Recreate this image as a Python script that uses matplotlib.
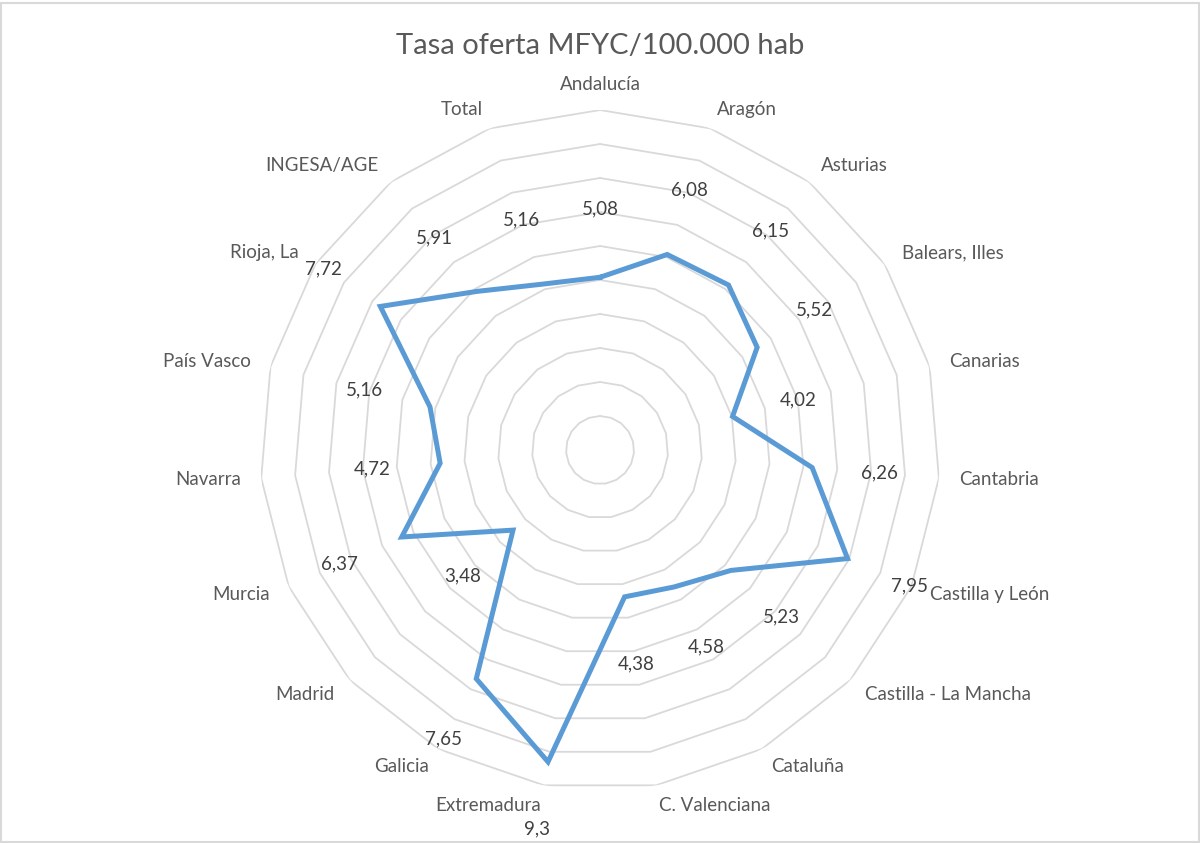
import numpy as np
import matplotlib
matplotlib.use("Agg")
import matplotlib.pyplot as plt
from matplotlib.patches import Rectangle

categories = [
    "Andalucía", "Aragón", "Asturias", "Balears, Illes", "Canarias",
    "Cantabria", "Castilla y León", "Castilla - La Mancha", "Cataluña",
    "C. Valenciana", "Extremadura", "Galicia", "Madrid", "Murcia",
    "Navarra", "País Vasco", "Rioja, La", "INGESA/AGE", "Total",
]
values = [5.08, 6.08, 6.15, 5.52, 4.02, 6.26, 7.95, 5.23, 4.58, 4.38,
          9.3, 7.65, 3.48, 6.37, 4.72, 5.16, 7.72, 5.91, 5.16]
rings = [1, 2, 3, 4, 5, 6, 7, 8, 9, 10]

title = "Tasa oferta MFYC/100.000 hab"

plt.rcParams["font.family"] = ["Lato", "DejaVu Sans"]
text_color = "#595959"
grid_color = "#d9d9d9"
line_color = "#5b9bd5"

fig = plt.figure(figsize=(12, 8.43), dpi=100)
ax = fig.add_axes([0.2167, 0.0629, 0.5667, 0.8066], projection="polar")
ax.set_theta_zero_location("N")
ax.set_theta_direction(-1)
ax.set_ylim(0, 10)
ax.grid(False)
ax.spines["polar"].set_visible(False)
ax.set_xticks([])
ax.set_yticks([])
ax.patch.set_alpha(0)

n = len(categories)
theta = np.arange(n) * 2 * np.pi / n
theta_closed = np.append(theta, theta[0])

# polygon gridlines
for r in rings:
    ax.plot(theta_closed, [r] * (n + 1), color=grid_color, lw=1.3, zorder=1)

# data line
vals_closed = values + [values[0]]
ax.plot(theta_closed, vals_closed, color=line_color, lw=3.6, zorder=3,
        solid_joinstyle="miter")

# data labels
for t, v in zip(theta, values):
    lbl = f"{v:g}".replace(".", ",")
    ax.text(t, v + 2, lbl, ha="center", va="center", fontsize=13.5,
            color="#404040", zorder=4)

# category labels
for t, name in zip(theta, categories):
    deg = np.degrees(t)
    if deg < 1:
        ha = "center"
        r = 10.75
    elif deg < 180:
        ha = "left"
        r = 10.6
    else:
        ha = "right"
        r = 10.6
    ax.text(t, r, name, ha=ha, va="center", fontsize=13.5, color=text_color)

fig.text(0.5, 0.946, title, ha="center", va="center", fontsize=21,
         color=text_color)

fig.patches.append(Rectangle((0.001, 0.001), 0.998, 0.996,
                             transform=fig.transFigure, fill=False,
                             edgecolor=grid_color, lw=1.5))

fig.savefig("out.png", dpi=100, facecolor="white")
